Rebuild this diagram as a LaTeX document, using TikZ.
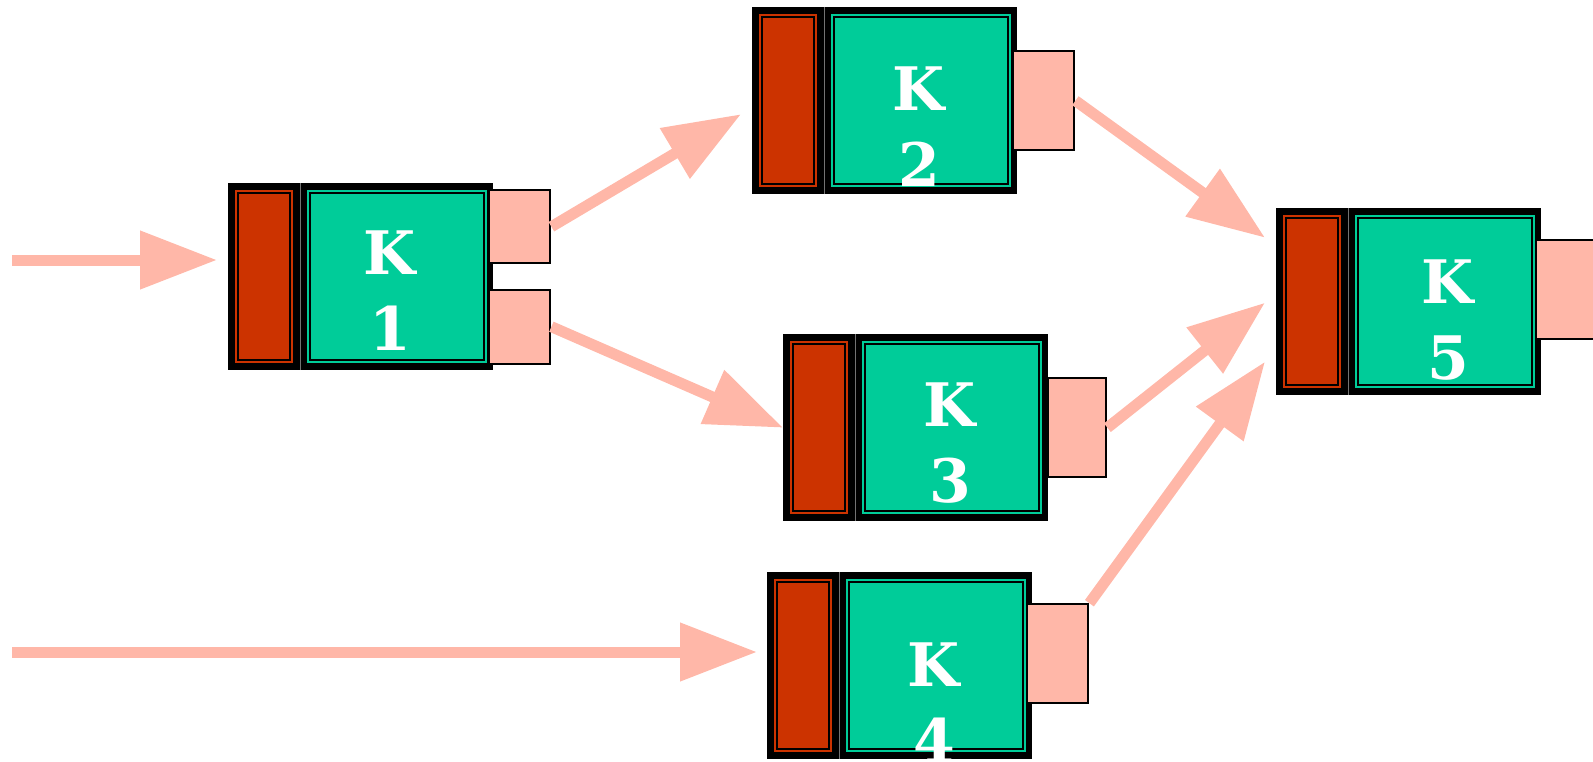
\documentclass[tikz,border=0pt]{standalone}
\usepackage{fontspec}
\usepackage{tikz}
\usetikzlibrary{arrows.meta, positioning}
\newfontfamily\kfont{DejaVu Serif}
\definecolor{kred}{RGB}{204, 51, 0}
\definecolor{kgreen}{RGB}{0, 204, 153}
\definecolor{ksalmon}{RGB}{255, 183, 168}

\begin{document}
\begin{tikzpicture}[
    x=1pt, y=-1pt,
    kbox/.style={rectangle, fill=black, minimum width=265pt, minimum height=187pt, inner sep=0pt, anchor=north west},
    redcell/.style={rectangle, draw=kred, double=black, double distance=2pt, line width=2pt, fill=kred, minimum width=52pt, minimum height=167pt, inner sep=0pt},
    greencell/.style={rectangle, draw=kgreen, double=black, double distance=2pt, line width=2pt, fill=kgreen, minimum width=174pt, minimum height=167pt, inner sep=0pt},
    divider/.style={draw=black!55, line width=1pt},
    klabel/.style={text=white, font=\kfont\bfseries\fontsize{60}{76}\selectfont, align=center, inner sep=0pt},
    port/.style={rectangle, draw=black, fill=ksalmon, line width=2pt, minimum width=61pt, minimum height=99pt, inner sep=0pt},
    flow/.style={-{Triangle[length=77pt, width=56pt]}, line width=11pt, draw=ksalmon}
]
\useasboundingbox (0,0) rectangle (1593,761);

% K1
\node[kbox] (k1) at (228,183) {};
\node[redcell] (k1r) at ([shift={(36,93.5)}]k1.north west) {};
\node[greencell] (k1g) at ([shift={(169,93.5)}]k1.north west) {};
\draw[divider] ([xshift=72pt]k1.north west) -- ([xshift=72pt]k1.south west);
\node[klabel] (k1t) at ([shift={(162,108)}]k1.north west) {K\\1};
\node[port, minimum height=73pt, right=-5pt of k1, yshift=50pt] (k1a) {};
\node[port, minimum height=74pt, right=-5pt of k1, yshift=-50pt] (k1b) {};

% K2
\node[kbox] (k2) at (752,7) {};
\node[redcell] (k2r) at ([shift={(36,93.5)}]k2.north west) {};
\node[greencell] (k2g) at ([shift={(169,93.5)}]k2.north west) {};
\draw[divider] ([xshift=72pt]k2.north west) -- ([xshift=72pt]k2.south west);
\node[klabel] (k2t) at ([shift={(167,120)}]k2.north west) {K\\2};
\node[port, right=-5pt of k2] (k2p) {};

% K3
\node[kbox] (k3) at (783,334) {};
\node[redcell] (k3r) at ([shift={(36,93.5)}]k3.north west) {};
\node[greencell] (k3g) at ([shift={(169,93.5)}]k3.north west) {};
\draw[divider] ([xshift=72pt]k3.north west) -- ([xshift=72pt]k3.south west);
\node[klabel] (k3t) at ([shift={(167,109)}]k3.north west) {K\\3};
\node[port, minimum width=58pt, right=-1pt of k3] (k3p) {};

% K4
\node[kbox] (k4) at (767,572) {};
\node[redcell] (k4r) at ([shift={(36,93.5)}]k4.north west) {};
\node[greencell] (k4g) at ([shift={(169,93.5)}]k4.north west) {};
\draw[divider] ([xshift=72pt]k4.north west) -- ([xshift=72pt]k4.south west);
\node[klabel] (k4t) at ([shift={(167,131)}]k4.north west) {K\\4};
\node[port, right=-6pt of k4, yshift=12pt] (k4p) {};

% K5
\node[kbox] (k5) at (1276,208) {};
\node[redcell] (k5r) at ([shift={(36,93.5)}]k5.north west) {};
\node[greencell] (k5g) at ([shift={(169,93.5)}]k5.north west) {};
\draw[divider] ([xshift=72pt]k5.north west) -- ([xshift=72pt]k5.south west);
\node[klabel] (k5t) at ([shift={(172,112)}]k5.north west) {K\\5};
\node[port, right=-6pt of k5, yshift=12.5pt] (k5p) {};

% inputs
\coordinate (in1) at (12,260);
\coordinate (in2) at (12,652);
\draw[flow, shorten >=11pt] (in1) -- (in1 -| k1.west);
\draw[flow, shorten >=10pt] (in2) -- (in2 -| k4.west);

% edges
\draw[flow] (k1a.east) -- ([shift={(-11,13.5)}]k2.west);
\draw[flow] (k1b.east) -- (k3.west);
\draw[flow] (k2p.east) -- ([shift={(-11,-64)}]k5.west);
\draw[flow] (k3p.east) -- ([shift={(-11,1)}]k5.west);
\draw[flow] (k4p.north east) -- ([shift={(-11,60)}]k5.west);

\end{tikzpicture}
\end{document}
